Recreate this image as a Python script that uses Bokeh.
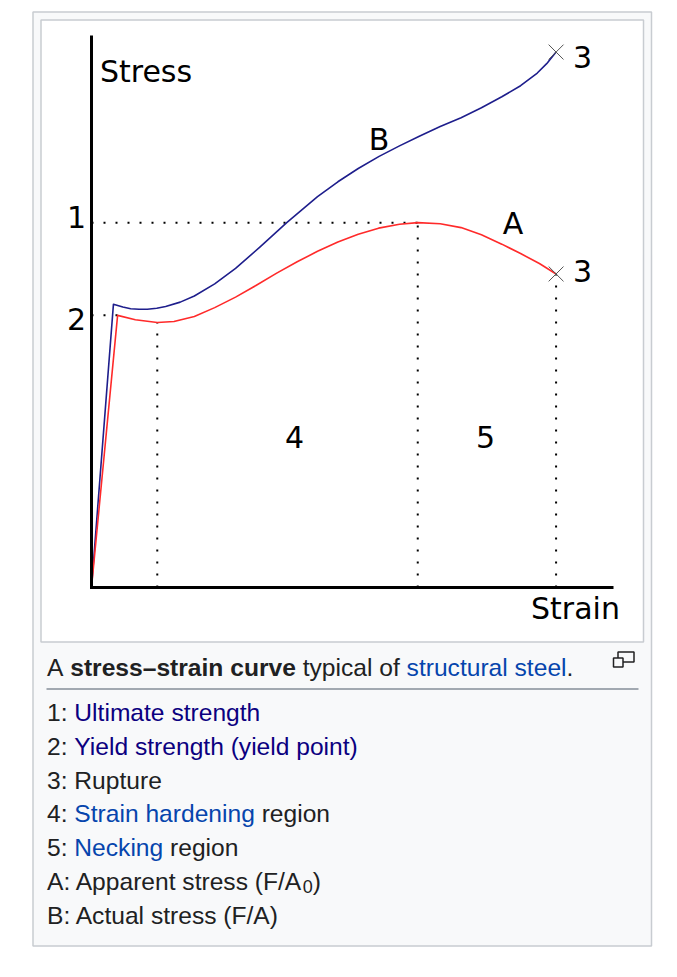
from bokeh.plotting import figure
from bokeh.models import Range1d
from bokeh.core.properties import value
from bokeh.embed import file_html
from bokeh.resources import INLINE

# ---------------- data: normalised strain / stress ----------------
strain_A = [0.000, 0.050, 0.084, 0.126, 0.158, 0.197, 0.236, 0.276, 0.315, 0.354, 0.394,
            0.433, 0.472, 0.511, 0.550, 0.590, 0.625, 0.668, 0.708, 0.747, 0.786, 0.822,
            0.858, 0.890]
stress_A = [0.000, 0.493, 0.485, 0.480, 0.482, 0.491, 0.507, 0.526, 0.547, 0.569, 0.590,
            0.609, 0.626, 0.640, 0.651, 0.658, 0.661, 0.659, 0.652, 0.639, 0.622, 0.605,
            0.587, 0.568]
strain_B = [0.000, 0.042, 0.060, 0.075, 0.091, 0.107, 0.125, 0.142, 0.170, 0.197, 0.236,
            0.276, 0.323, 0.374, 0.433, 0.472, 0.511, 0.551, 0.590, 0.629, 0.668, 0.708,
            0.747, 0.786, 0.822, 0.854, 0.872, 0.890]
stress_B = [0.000, 0.513, 0.508, 0.505, 0.504, 0.504, 0.506, 0.509, 0.517, 0.528, 0.550,
            0.578, 0.617, 0.661, 0.708, 0.735, 0.759, 0.781, 0.800, 0.818, 0.835, 0.851,
            0.869, 0.889, 0.909, 0.932, 0.949, 0.970]
axis_strain_end = 1.0
axis_stress_end = 1.0

point_labels = ["1", "2", "3", "3", "4", "5", "A", "B"]
axis_titles = ["Stress", "Strain"]

caption_lines = [
    [("A ", "text"), ("stress–strain curve", "bold"), (" typical of ", "text"),
     ("structural steel", "link"), (".", "text")],
    [("1: ", "text"), ("Ultimate strength", "visited")],
    [("2: ", "text"), ("Yield strength (yield point)", "visited")],
    [("3: Rupture", "text")],
    [("4: ", "text"), ("Strain hardening", "link"), (" region", "text")],
    [("5: ", "text"), ("Necking", "link"), (" region", "text")],
    [("A: Apparent stress (F/A", "text"), ("0", "sub"), (")", "text")],
    [("B: Actual stress (F/A)", "text")],
]

# ---------------- key points derived from the curves ----------------
i_ult = stress_A.index(max(stress_A))
ult_x, ult_y = strain_A[i_ult], stress_A[i_ult]
yld_x, yld_y = strain_A[1], stress_A[1]
i_low = stress_A.index(min(stress_A[1:i_ult]))
low_x, low_y = strain_A[i_low], stress_A[i_low]
rupA_x, rupA_y = strain_A[-1], stress_A[-1]
rupB_x, rupB_y = strain_B[-1], stress_B[-1]

# ---------------- layout (page pixels) ----------------
W, H = 655, 950
PAGE_L, PAGE_T = 0, 0
ORIG_X, ORIG_Y = 91, 587         # page position of the chart origin
SX, SY = 522, 552                # pixels per unit strain / stress
TXT_DY = -8                      # text baseline correction

x0 = (PAGE_L - ORIG_X) / SX
x1 = (PAGE_L + W - ORIG_X) / SX
y0 = (ORIG_Y - (PAGE_T + H)) / SY
y1 = (ORIG_Y - PAGE_T) / SY

p = figure(width=W, height=H, x_range=Range1d(x0, x1), y_range=Range1d(y0, y1),
           output_backend="svg", toolbar_location=None, tools="",
           x_axis_type=None, y_axis_type=None, min_border=0,
           outline_line_color=None, background_fill_color="white",
           border_fill_color="white")
p.extra_x_ranges = {"page": Range1d(PAGE_L, PAGE_L + W)}
p.extra_y_ranges = {"page": Range1d(PAGE_T + H, PAGE_T)}
PG = dict(x_range_name="page", y_range_name="page")

# frames
p.quad(left=[32.5], right=[651], top=[11.5], bottom=[945.5], fill_color="#f8f9fa",
       line_color="#c8ccd1", line_width=1.5, **PG)
p.quad(left=[40.5], right=[643], top=[19.5], bottom=[641.5], fill_color="white",
       line_color="#c8ccd1", line_width=1.5, **PG)

# dotted guide lines
dot = dict(line_color="black", line_width=2, line_dash="2 10")
p.line([0, ult_x], [ult_y, ult_y], **dot)
p.line([0, yld_x], [yld_y, yld_y], **dot)
p.line([low_x, low_x], [0, low_y], **dot)
p.line([ult_x, ult_x], [0, ult_y], **dot)
p.line([rupA_x, rupA_x], [0, rupA_y], **dot)

# curves
p.line(strain_B, stress_B, line_color="#1e1e8c", line_width=1.6, line_join="round")
p.line(strain_A, stress_A, line_color="#ff2a2a", line_width=1.6, line_join="round")

# axes
p.line([0, 0, axis_strain_end], [axis_stress_end, 0, 0], line_color="black",
       line_width=3, line_join="miter")

# rupture markers
p.scatter([rupB_x, rupA_x], [rupB_y, rupA_y], marker="x", size=21,
          line_color="#555555", line_width=1)

# chart labels
chart_font = value("DejaVu Sans")
lab_x = [76, 76, 582, 582, 294, 485, 512.5, 378.5]
lab_y = [224.5, 326, 64, 278, 444.5, 444.5, 230.5, 146.5]
p.text(x=lab_x, y=[v + TXT_DY for v in lab_y], text=point_labels, text_font=chart_font,
       text_font_size="30px", text_align="center", text_baseline="alphabetic",
       text_color="black", **PG)
p.text(x=[145.5, 575], y=[79 + TXT_DY, 615.5 + TXT_DY], text=axis_titles,
       text_font=chart_font, text_font_size="30px", text_align="center",
       text_baseline="alphabetic", text_color="black", **PG)

# caption
AR = {' ': 278, '(': 333, ')': 333, '.': 278, '/': 278, ':': 278, '–': 556,
      'A': 667, 'B': 667, 'F': 611, 'N': 722, 'R': 722, 'S': 667, 'U': 722, 'Y': 667,
      'a': 556, 'c': 500, 'd': 556, 'e': 556, 'f': 278, 'g': 556, 'h': 556, 'i': 222,
      'k': 500, 'l': 222, 'm': 833, 'n': 556, 'o': 556, 'p': 556, 'r': 333, 's': 500,
      't': 278, 'u': 556, 'v': 500, 'y': 500}
for d in "0123456789":
    AR[d] = 556
ARB = {' ': 278, '–': 556, 'a': 556, 'c': 556, 'e': 556, 'i': 278, 'n': 611,
       'r': 389, 's': 556, 't': 333, 'u': 611, 'v': 556}

FS = 24.6
SUB_FS = 18
styles = {
    "text": ("#202122", "normal", FS, 0),
    "bold": ("#202122", "bold", FS, 0),
    "link": ("#0645ad", "normal", FS, 0),
    "visited": ("#0b0080", "normal", FS, 0),
    "sub": ("#202122", "normal", SUB_FS, 4.5),
}

def width(s, kind, size):
    table = ARB if kind == "bold" else AR
    return sum(table.get(c, 556) for c in s) / 1000.0 * size

baselines = [674.5] + [720 + 33.8 * k for k in range(7)]
groups = {}
for line, base in zip(caption_lines, baselines):
    x = 46.5
    for seg, kind in line:
        color, style, size, dy = styles[kind]
        lead = len(seg) - len(seg.lstrip(" "))
        shown = seg.strip(" ")
        gx, gy, gt = groups.setdefault(kind, ([], [], []))
        gx.append(x + width(seg[:lead], kind, size))
        gy.append(base + dy + TXT_DY)
        gt.append(shown)
        x += width(seg, kind, size)

for kind, (gx, gy, gt) in groups.items():
    color, style, size, dy = styles[kind]
    p.text(x=gx, y=gy, text=gt, text_font=value("Liberation Sans"),
           text_font_size=f"{size}px", text_font_style=style, text_color=color,
           text_align="left", text_baseline="alphabetic", **PG)

# separator under caption headline
p.line([46, 638], [688.5, 688.5], line_color="#a2a9b1", line_width=2, **PG)

# enlarge icon
p.quad(left=[617.5], right=[633.5], top=[651.5], bottom=[661.5], fill_color=None,
       line_color="#202122", line_width=1.5, **PG)
p.quad(left=[613], right=[622.5], top=[657.5], bottom=[666.5], fill_color="#f8f9fa",
       line_color="#202122", line_width=1.5, **PG)

open("out.html", "w").write(file_html(p, INLINE))
